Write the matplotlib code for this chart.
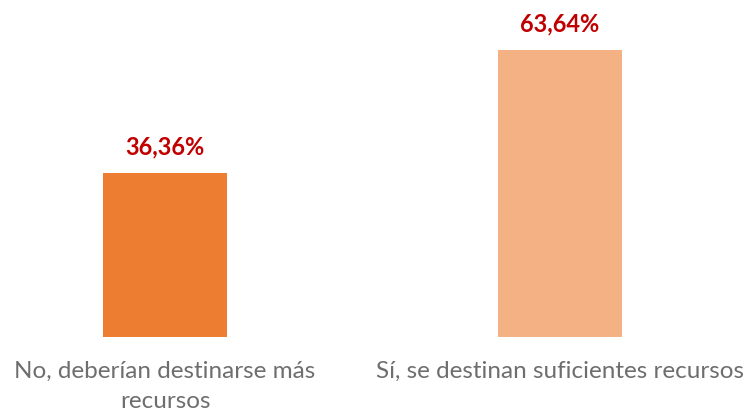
import matplotlib
matplotlib.use("Agg")
import matplotlib.pyplot as plt

categories = ["No, deberían destinarse más\nrecursos", "Sí, se destinan suficientes recursos"]
values = [36.36, 63.64]
value_labels = ["36,36%", "63,64%"]
colors = ["#ED7D31", "#F4B183"]

plt.rcParams['font.family'] = ['Lato', 'DejaVu Sans']

PX = 4.51  # pixels per percent
fig = plt.figure(figsize=(7.48, 4.12), dpi=100)
ax = fig.add_axes([0, 75/412, 1, 337/412])
x = list(range(len(categories)))
bars = ax.bar(x, values, width=124/395, color=colors)
ax.set_xlim(-165/395, (748-165)/395)
ax.set_ylim(0, 337/PX)
for xi, v, lab in zip(x, values, value_labels):
    ax.text(xi, v + 26/PX, lab, ha='center', va='center', color='#C00000',
            fontsize=17, fontweight='bold')
for xi, cat in zip(x, categories):
    for i, line in enumerate(cat.split("\n")):
        ax.text(xi, -(41 + 30*i)/PX, line, ha='center', va='baseline',
                color='#6E6E6E', fontsize=17.5)
ax.axis('off')
fig.savefig("out.png", dpi=100)
